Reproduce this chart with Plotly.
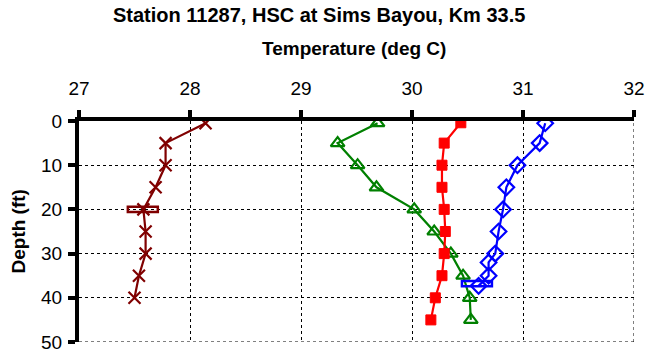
import plotly.graph_objects as go

# Temperature profiles (deg C) by depth (ft)
depth_x = [0.5, 5, 10, 15, 20, 25, 30, 35, 40]
temp_x = [28.14, 27.78, 27.78, 27.69, 27.58, 27.60, 27.60, 27.54, 27.50]

depth_tri = [0.5, 5, 10, 15, 20, 25, 30, 35, 40, 45]
temp_tri = [29.69, 29.33, 29.51, 29.68, 30.02, 30.20, 30.35, 30.46, 30.52, 30.53]

depth_sq = [0.4, 5, 10, 15, 20, 25, 30, 35, 40, 45]
temp_sq = [30.44, 30.29, 30.27, 30.27, 30.29, 30.30, 30.29, 30.27, 30.21, 30.17]

depth_dia = [0.5, 5, 10, 15, 20, 25, 30, 32, 35, 37.3]
temp_dia = [31.20, 31.15, 30.95, 30.85, 30.82, 30.78, 30.75, 30.69, 30.69, 30.60]

# Bar markers: (temp low, temp high, depth)
bar_red = (27.44, 27.71, 20.0)
bar_blue = (30.45, 30.72, 36.8)

x_ticks = [27, 28, 29, 30, 31, 32]
y_ticks = [0, 10, 20, 30, 40, 50]

FONT = "Liberation Sans, Arial, sans-serif"

fig = go.Figure()
fig.add_trace(go.Scatter(
    x=temp_x, y=depth_x, mode="lines+markers",
    line=dict(color="#800000", width=2.2),
    marker=dict(symbol="x-thin-open", size=12, color="#800000",
                line=dict(color="#800000", width=2.2)),
))
fig.add_trace(go.Scatter(
    x=temp_tri, y=depth_tri, mode="lines+markers",
    line=dict(color="#008000", width=2.2),
    marker=dict(symbol="triangle-up-open", size=12, color="#008000",
                line=dict(color="#008000", width=2.2)),
))
fig.add_trace(go.Scatter(
    x=temp_sq, y=depth_sq, mode="lines+markers",
    line=dict(color="#ff0000", width=2.2),
    marker=dict(symbol="square", size=10, color="#ff0000",
                line=dict(color="#ff0000", width=1)),
))
fig.add_trace(go.Scatter(
    x=temp_dia, y=depth_dia, mode="lines+markers",
    line=dict(color="#0000ff", width=2.2),
    marker=dict(symbol="diamond-open", size=12, color="#0000ff",
                line=dict(color="#0000ff", width=2.2)),
))

for (lo, hi, d), col in [(bar_red, "#800000"), (bar_blue, "#0000ff")]:
    fig.add_shape(type="rect", xref="x", yref="y",
                  x0=lo, x1=hi, y0=d - 0.6, y1=d + 0.6,
                  line=dict(color=col, width=2.5), fillcolor="rgba(0,0,0,0)")

fig.update_xaxes(
    range=[27, 32], side="top", tickvals=x_ticks, automargin=False,
    showline=True, linewidth=4, linecolor="black",
    ticks="outside", ticklen=7, tickwidth=4, tickcolor="black",
    showgrid=True, gridcolor="black", gridwidth=1, griddash="dot",
    zeroline=False, tickfont=dict(family=FONT, size=19, color="black"),
    ticklabelstandoff=7,
)
fig.update_yaxes(
    range=[50, 0], tickvals=y_ticks, automargin=False,
    showline=True, linewidth=4, linecolor="black",
    ticks="outside", ticklen=7, tickwidth=4, tickcolor="black",
    showgrid=True, gridcolor="black", gridwidth=1, griddash="dot",
    zeroline=False, tickfont=dict(family=FONT, size=19, color="black"),
    ticklabelstandoff=2,
)

# Edge gridlines at the far ends of both axes
fig.add_shape(type="line", xref="x", yref="paper", x0=32, x1=32, y0=0, y1=1,
              line=dict(color="black", width=1, dash="dot"), layer="below")
fig.add_shape(type="line", xref="paper", yref="y", x0=0, x1=1, y0=50, y1=50,
              line=dict(color="black", width=1, dash="dot"), layer="below")

fig.add_annotation(text="<b>Station 11287, HSC at Sims Bayou, Km 33.5</b>",
                   xref="paper", yref="paper", x=0.432, y=1,
                   xanchor="center", yanchor="middle", yshift=106,
                   showarrow=False, font=dict(family=FONT, size=20, color="black"))
fig.add_annotation(text="<b>Temperature (deg C)</b>",
                   xref="paper", yref="paper", x=0.496, y=1,
                   xanchor="center", yanchor="middle", yshift=73,
                   showarrow=False, font=dict(family=FONT, size=19, color="black"))
fig.add_annotation(text="<b>Depth (ft)</b>", textangle=-90,
                   xref="paper", yref="paper", x=0, y=0.5,
                   xanchor="center", yanchor="middle", xshift=-61,
                   showarrow=False, font=dict(family=FONT, size=19, color="black"))

fig.update_layout(
    width=647, height=358,
    margin=dict(l=79, r=13, t=121, b=16),
    paper_bgcolor="white", plot_bgcolor="white",
    showlegend=False,
)

fig.write_html("out.html")
